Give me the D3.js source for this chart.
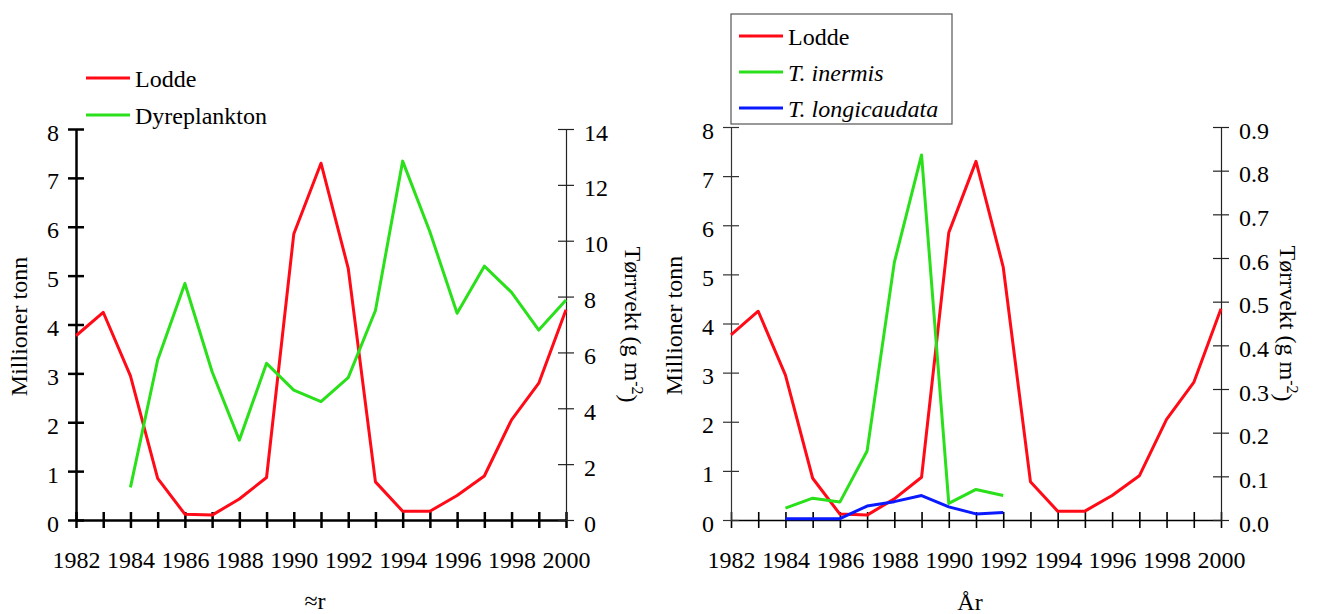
<!DOCTYPE html>
<html>
<head>
<meta charset="utf-8">
<script src="https://cdn.jsdelivr.net/npm/d3@7"></script>
<style>
  html, body { margin: 0; padding: 0; background: #fff; }
  svg { display: block; }
</style>
</head>
<body>
<svg id="chart" width="1319" height="614"></svg>
<script>
// Years on the x axis
const years = [1982, 1983, 1984, 1985, 1986, 1987, 1988, 1989, 1990, 1991,
               1992, 1993, 1994, 1995, 1996, 1997, 1998, 1999, 2000];
// Capelin stock, million tonnes
const lodde = [3.77, 4.25, 2.95, 0.85, 0.12, 0.10, 0.43, 0.87, 5.85, 7.30,
               5.15, 0.78, 0.18, 0.18, 0.50, 0.90, 2.05, 2.80, 4.30];
// Zooplankton dry weight (g m-2), 1984-2000
const plankYears = [1984, 1985, 1986, 1987, 1988, 1989, 1990, 1991, 1992,
                    1993, 1994, 1995, 1996, 1997, 1998, 1999, 2000];
const dyreplankton = [1.17, 5.73, 8.47, 5.31, 2.86, 5.61, 4.65, 4.24, 5.10,
                      7.50, 12.85, 10.32, 7.40, 9.09, 8.15, 6.80, 7.88];
// Krill dry weight (g m-2), 1984-1992
const krillYears = [1984, 1985, 1986, 1987, 1988, 1989, 1990, 1991, 1992];
const inermis = [0.027, 0.050, 0.041, 0.158, 0.590, 0.836, 0.038, 0.070, 0.056];
const longicaudata = [0.003, 0.003, 0.003, 0.032, 0.042, 0.056, 0.030, 0.014, 0.017];

// Axis ticks
const leftTicks = [0, 1, 2, 3, 4, 5, 6, 7, 8];
const rightTicksA = [0, 2, 4, 6, 8, 10, 12, 14];
const rightTicksB = [0, 0.1, 0.2, 0.3, 0.4, 0.5, 0.6, 0.7, 0.8, 0.9];

const RED = "#ff0a16", GREEN = "#2ae01a", BLUE = "#0a1aff";
const FS = 24;
const SERIF = "Liberation Serif";

const svg = d3.select("#chart");

function styleText(sel) {
  return sel.attr("font-size", FS).attr("font-family", SERIF).attr("fill", "#000");
}

function drawPanel(opt) {
  const g = svg.append("g");
  const x = d3.scaleLinear().domain([1982, 2000]).range([opt.x0, opt.x1]);
  const yL = d3.scaleLinear().domain([0, 8]).range([opt.yBottom, opt.yTop]);
  const yR = d3.scaleLinear().domain(opt.rightDomain).range([opt.yBottom, opt.yTop]);

  // x axis: a tick at every year crossing the line, labels on even years
  const xAxis = g.append("g")
    .attr("transform", `translate(0,${opt.yBottom})`)
    .call(d3.axisBottom(x).tickValues(years).tickSize(8).tickSizeOuter(0)
      .tickFormat(d => d % 2 === 0 ? String(d) : ""));
  xAxis.attr("font-family", SERIF);
  xAxis.select(".domain").attr("stroke", "#000").attr("stroke-width", opt.xAxisWidth);
  xAxis.selectAll(".tick line").attr("y1", -8).attr("stroke", "#000")
    .attr("stroke-width", opt.xAxisWidth);
  styleText(xAxis.selectAll(".tick text").attr("y", 48).attr("dy", 0));

  // left axis
  const lAxis = g.append("g")
    .attr("transform", `translate(${opt.x0},0)`)
    .call(d3.axisLeft(yL).tickValues(leftTicks).tickSize(8).tickSizeOuter(0)
      .tickFormat(d3.format("d")));
  lAxis.attr("font-family", SERIF);
  lAxis.select(".domain").attr("stroke", opt.leftColor).attr("stroke-width", opt.leftWidth);
  lAxis.selectAll(".tick line").attr("x1", 8).attr("stroke", opt.leftColor)
    .attr("stroke-width", opt.leftWidth);
  styleText(lAxis.selectAll(".tick text").attr("x", -17).attr("dy", "0.46em"));

  // right axis
  const rAxis = g.append("g")
    .attr("transform", `translate(${opt.x1},0)`)
    .call(d3.axisRight(yR).tickValues(opt.rightTicks).tickSize(8).tickSizeOuter(0)
      .tickFormat(opt.rightFormat));
  rAxis.attr("font-family", SERIF);
  rAxis.select(".domain").attr("stroke", "#222").attr("stroke-width", 1.2);
  rAxis.selectAll(".tick line").attr("x1", -8).attr("stroke", "#222").attr("stroke-width", 1.2);
  styleText(rAxis.selectAll(".tick text").attr("x", 18).attr("dy", "0.46em"));

  // axis titles
  styleText(g.append("text")
    .attr("transform", `translate(${opt.x0 - 49},${(opt.yTop + opt.yBottom) / 2 + 2}) rotate(-90)`)
    .attr("text-anchor", "middle"))
    .text("Millioner tonn");
  const rt = styleText(g.append("text")
    .attr("transform", `translate(${opt.x1 + 59},${(opt.yTop + opt.yBottom) / 2}) rotate(90)`)
    .attr("text-anchor", "middle"));
  rt.append("tspan").text("Tørrvekt (g m");
  rt.append("tspan").attr("dy", "-0.45em").attr("font-size", 16).text("-2");
  rt.append("tspan").attr("dy", "0.45em").text(")");

  styleText(g.append("text")
    .attr("x", (opt.x0 + opt.x1) / 2 - 6).attr("y", opt.titleY)
    .attr("text-anchor", "middle"))
    .text(opt.xTitle);

  // series
  opt.series.forEach(s => {
    const scale = s.axis === "left" ? yL : yR;
    const line = d3.line().x((d, i) => x(s.years[i])).y(d => scale(d));
    g.append("path")
      .datum(s.values)
      .attr("fill", "none")
      .attr("stroke", s.color)
      .attr("stroke-width", 3)
      .attr("stroke-linejoin", "round")
      .attr("d", line);
  });

  // legend
  const lg = g.append("g");
  if (opt.legendBox) {
    lg.append("rect")
      .attr("x", opt.legendBox[0]).attr("y", opt.legendBox[1])
      .attr("width", opt.legendBox[2]).attr("height", opt.legendBox[3])
      .attr("fill", "#fff").attr("stroke", "#555").attr("stroke-width", 1.2);
  }
  opt.series.forEach((s, i) => {
    const ly = opt.legendY + i * opt.legendStep;
    lg.append("line")
      .attr("x1", opt.legendX).attr("x2", opt.legendX + 44)
      .attr("y1", ly).attr("y2", ly)
      .attr("stroke", s.color).attr("stroke-width", 3);
    styleText(lg.append("text")
      .attr("x", opt.legendX + 49).attr("y", ly + 9)
      .attr("font-style", s.italic ? "italic" : "normal"))
      .text(s.name);
  });
}

drawPanel({
  x0: 76, x1: 566, yTop: 129, yBottom: 520,
  rightDomain: [0, 14], rightTicks: rightTicksA, rightFormat: d3.format("d"),
  xAxisWidth: 2.5, leftWidth: 2.5, leftColor: "#000",
  xTitle: "≈r", titleY: 609,
  legendX: 86, legendY: 78, legendStep: 37,
  series: [
    { name: "Lodde", years: years, values: lodde, color: RED, axis: "left" },
    { name: "Dyreplankton", years: plankYears, values: dyreplankton, color: GREEN, axis: "right" }
  ]
});

drawPanel({
  x0: 731, x1: 1221, yTop: 127, yBottom: 520,
  rightDomain: [0, 0.9], rightTicks: rightTicksB, rightFormat: d3.format(".1f"),
  xAxisWidth: 1.6, leftWidth: 1.2, leftColor: "#333",
  xTitle: "År", titleY: 610,
  legendX: 739, legendY: 36, legendStep: 36,
  legendBox: [731, 14, 221, 110],
  series: [
    { name: "Lodde", years: years, values: lodde, color: RED, axis: "left" },
    { name: "T. inermis", years: krillYears, values: inermis, color: GREEN, axis: "right", italic: true },
    { name: "T. longicaudata", years: krillYears, values: longicaudata, color: BLUE, axis: "right", italic: true }
  ]
});
</script>
</body>
</html>
